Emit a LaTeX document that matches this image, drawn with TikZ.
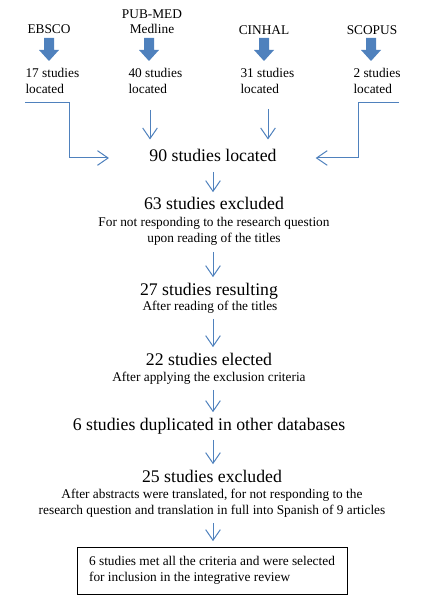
\documentclass[tikz,border=0pt]{standalone}
\usepackage{fontspec}
\setmainfont{Liberation Serif}
\usetikzlibrary{arrows.meta}

\definecolor{flowblue}{RGB}{79,129,189}

\tikzset{every picture/.style={line width=0.75pt}}
\tikzset{
  headtxt/.style={anchor=base, inner sep=0pt, font=\fontsize{13.3}{16}\selectfont, text height=9pt, text depth=3pt},
  subtxt/.style={anchor=base, inner sep=0pt, font=\fontsize{10}{12}\selectfont, text height=7pt, text depth=2.25pt},
  dbtxt/.style={inner sep=0pt, font=\fontsize{10}{11.5}\selectfont},
  flowline/.style={draw=flowblue, line width=0.75pt, -{Straight Barb[length=8pt,width=11pt]}},
  stepline/.style={flowline, shorten <=4pt, shorten >=4pt},
  finalbox/.style={draw=black, line width=0.75pt, inner sep=0pt, minimum width=202.5pt, minimum height=35.25pt, align=left, font=\fontsize{10}{12}\selectfont}
}

\begin{document}
\begin{tikzpicture}[x=0.75pt,y=0.75pt,yscale=-1,xscale=1]
\useasboundingbox (0,0) rectangle (446,609);

%Text: databases
\node[dbtxt] (ebsco) at (49,29) {EBSCO};
\node[dbtxt, align=center] (pubmed) at (152,22) {PUB-MED\\Medline};
\node[dbtxt] (cinhal) at (264,30) {CINHAL};
\node[dbtxt] (scopus) at (372,30) {SCOPUS};

%Shape: Down Arrow (one under each database)
\foreach \cx in {49,149,264,371}{
  \fill[flowblue] (\cx-5,38) -- (\cx+5,38) -- (\cx+5,50) -- (\cx+10,50) -- (\cx,61) -- (\cx-10,50) -- (\cx-5,50) -- cycle;
}

%Text: studies located per database
\node[dbtxt, align=left, anchor=north west] (c17) at (25,68) {17 studies\\located};
\node[dbtxt, align=left, anchor=north west] (c40) at (128,68) {40 studies\\located};
\node[dbtxt, align=left, anchor=north west] (c31) at (240,68) {31 studies\\located};
\node[dbtxt, align=left, anchor=north west] (c2) at (353,68) {2 studies\\located};

%Text: steps
\node[headtxt] (n90) at (213,162) {90 studies located};
\node[headtxt] (n63) at (214,210) {63 studies excluded};
\node[subtxt] (n63a) at (214,227) {For not responding to the research question};
\node[subtxt] (n63b) at (214,243) {upon reading of the titles};
\node[headtxt] (n27) at (209,295) {27 studies resulting};
\node[subtxt] (n27a) at (210,310) {After reading of the titles};
\node[headtxt] (n22) at (209,365) {22 studies elected};
\node[subtxt] (n22a) at (209,381) {After applying the exclusion criteria};
\node[headtxt] (n6) at (209,430) {6 studies duplicated in other databases};
\node[headtxt] (n25) at (212,482) {25 studies excluded};
\node[subtxt] (n25a) at (212,498) {After abstracts were translated, for not responding to the};
\node[subtxt] (n25b) at (212,514) {research question and translation in full into Spanish of 9 articles};

%Shape: Rectangle
\node[finalbox] (nfin) at (212,570.5) {6 studies met all the criteria and were selected\\for inclusion in the integrative review};

%Straight Lines: databases into the total
\coordinate (e1) at (25,103);
\coordinate (e2) at (69,103);
\coordinate (p1) at (150,110);
\coordinate (h1) at (268,109);
\coordinate (s1) at (399,103);
\coordinate (s2) at (358,103);
\draw[flowline] (e1) -- (e2) |- ([xshift=-30pt]n90.west);
\draw[flowline, shorten >=7.5pt] (p1) -- (p1 |- n90.north);
\draw[flowline, shorten >=7.5pt] (h1) -- (h1 |- n90.north);
\draw[flowline] (s1) -- (s2) |- ([xshift=29pt]n90.east);

%Straight Lines: steps
\draw[stepline] (n90.south -| 213,0) -- (n63.north -| 213,0);
\draw[stepline] (n63b.south -| 213,0) -- (n27.north -| 213,0);
\draw[stepline] (n27a.south -| 213,0) -- (n22.north -| 213,0);
\draw[stepline] (n22a.south -| 213,0) -- (n6.north -| 213,0);
\draw[stepline] (n6.south -| 213,0) -- (n25.north -| 213,0);
\draw[stepline] (n25b.south -| 213,0) -- (nfin.north -| 213,0);

\end{tikzpicture}
\end{document}
